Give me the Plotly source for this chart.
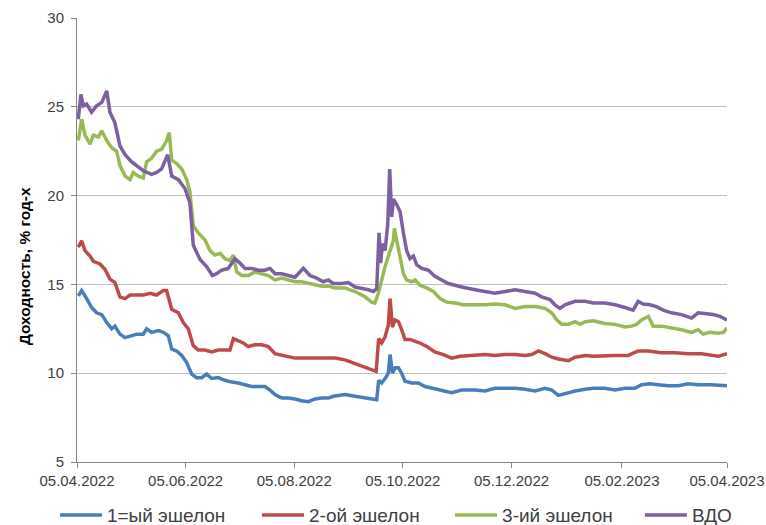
import pandas as pd
import plotly.graph_objects as go

START = "2022-04-05"

# Day offsets from 05.04.2022 and yields (% p.a.)
days_1 = [0.75, 2.6, 5.4, 8.2, 11.0, 13.9, 16.7, 19.5, 21.3, 24.1, 27.0, 29.8, 33.5, 37.2, 39.1, 41.9, 45.7, 48.5, 51.3,
          53.2, 56.0, 58.8, 61.6, 64.4, 67.2, 70.0, 72.8, 75.6, 79.3, 83.1, 86.8, 90.6, 94.3, 98.0, 101.8, 105.5, 108.4,
          111.2, 115.0, 118.7, 122.4, 126.1, 129.9, 133.6, 137.4, 141.1, 143.9, 150.5, 156.1, 161.7, 166.4, 168.3,
          169.4, 171.1, 173.0, 174.8, 175.8, 177.1, 178.6, 180.5, 182.3, 184.2, 187.9, 191.7, 195.4, 199.2, 204.8,
          210.4, 216.0, 223.5, 229.1, 234.7, 240.3, 246.0, 251.6, 257.2, 262.8, 266.6, 270.3, 274.0, 279.7, 285.3,
          290.0, 296.4, 302.1, 307.7, 313.3, 317.0, 321.7, 326.4, 332.0, 337.6, 343.2, 348.8, 356.3, 365.0]
echelon_1 = [14.35, 14.65, 14.2, 13.7, 13.4, 13.3, 12.85, 12.5, 12.65, 12.2, 12.0, 12.1, 12.2, 12.2, 12.5, 12.3, 12.4, 12.3, 12.1,
             11.35, 11.25, 11.0, 10.6, 9.95, 9.75, 9.75, 9.95, 9.7, 9.75, 9.6, 9.5, 9.45, 9.35, 9.25, 9.25, 9.25, 9.05,
             8.8, 8.6, 8.6, 8.55, 8.45, 8.4, 8.55, 8.6, 8.6, 8.7, 8.8, 8.7, 8.6, 8.5, 8.5,
             9.6, 9.45, 9.7, 10.0, 11.05, 10.0, 10.3, 10.3, 10.0, 9.55, 9.45, 9.45, 9.25, 9.15, 9.0,
             8.9, 9.05, 9.05, 9.0, 9.15, 9.15, 9.15, 9.1, 9.0, 9.15, 9.05, 8.75, 8.85, 9.0, 9.1,
             9.15, 9.15, 9.05, 9.15, 9.15, 9.35, 9.4, 9.35, 9.3, 9.3, 9.4, 9.35, 9.35, 9.3]

days_2 = [0.75, 2.6, 4.5, 7.3, 9.2, 12.9, 15.7, 18.5, 21.3, 24.1, 27.0, 29.8, 33.5, 37.2, 41.0, 44.7, 48.5, 50.3, 53.2,
          56.9, 59.7, 62.5, 65.3, 68.1, 71.9, 75.6, 79.3, 83.1, 85.9, 87.8, 90.6, 93.4, 96.2, 99.9, 103.7, 107.4,
          111.2, 115.0, 118.7, 122.4, 126.1, 133.6, 141.1, 144.9, 150.5, 156.1, 161.7, 166.4, 168.0, 169.4, 171.1,
          173.0, 174.8, 175.8, 177.1, 178.6, 180.5, 182.3, 184.2, 187.0, 189.8, 192.6, 196.4, 201.0, 205.7, 210.4,
          215.1, 223.5, 229.1, 234.7, 240.3, 246.0, 251.6, 255.3, 259.1, 262.8, 266.6, 270.3, 275.9, 279.7, 285.3,
          290.0, 296.4, 302.1, 309.5, 315.1, 320.8, 328.2, 335.7, 343.2, 350.7, 356.3, 360.1, 365.0]
echelon_2 = [17.1, 17.45, 16.9, 16.6, 16.3, 16.15, 15.85, 15.3, 15.1, 14.3, 14.2, 14.4, 14.4, 14.4, 14.5, 14.4, 14.65, 14.65, 13.6,
             13.4, 12.85, 12.5, 11.55, 11.3, 11.3, 11.2, 11.3, 11.3, 11.3, 11.95, 11.85, 11.7, 11.5, 11.6, 11.6, 11.5,
             11.1, 11.0, 10.95, 10.85, 10.85, 10.85, 10.85, 10.85, 10.75, 10.55, 10.35, 10.2, 10.1, 11.95, 11.7,
             12.05, 12.7, 14.2, 12.6, 13.0, 12.9, 12.45, 11.9, 11.9, 11.8, 11.7, 11.5, 11.2, 11.05, 10.85,
             10.95, 11.0, 11.05, 11.0, 11.05, 11.05, 11.0, 11.05, 11.25, 11.1, 10.9, 10.8, 10.7, 10.9, 11.0,
             10.95, 11.0, 11.0, 11.0, 11.25, 11.25, 11.15, 11.15, 11.1, 11.1, 11.0, 10.95, 11.1]

days_3 = [0.75, 2.6, 4.5, 7.3, 9.2, 12.0, 13.9, 16.7, 19.5, 22.3, 24.1, 27.0, 29.8, 31.6, 34.4, 37.2, 39.1, 41.9, 44.7,
          47.5, 50.3, 51.8, 53.2, 56.0, 58.8, 61.6, 63.4, 65.3, 68.1, 71.9, 74.7, 77.5, 80.3, 83.1, 85.9, 87.8, 89.7,
          92.5, 96.2, 99.9, 103.7, 107.4, 111.2, 115.0, 118.7, 122.4, 126.1, 129.9, 133.6, 137.4, 141.1, 144.9,
          150.5, 156.1, 161.7, 165.5, 167.3, 169.2, 171.1, 173.0, 175.8, 177.7, 178.2, 179.5, 181.4, 183.3, 185.1,
          187.9, 189.8, 192.6, 196.4, 200.1, 203.9, 207.6, 212.3, 216.9, 223.5, 229.1, 234.7, 240.3, 246.0, 251.6,
          257.2, 262.8, 266.6, 269.4, 272.2, 275.9, 279.7, 282.5, 285.3, 290.0, 296.4, 302.1, 307.7, 311.4, 314.2,
          317.0, 320.8, 323.6, 328.2, 333.8, 339.5, 345.1, 348.8, 351.6, 355.4, 360.1, 362.9, 365.0]
echelon_3 = [23.1, 24.3, 23.4, 22.9, 23.4, 23.3, 23.65, 23.1, 22.7, 22.5, 21.7, 21.1, 20.9, 21.3, 21.1, 21.0, 21.9, 22.1, 22.5,
             22.6, 23.1, 23.55, 22.0, 21.8, 21.5, 20.9, 20.2, 18.3, 17.9, 17.5, 16.9, 16.65, 16.75, 16.45, 16.35, 16.65, 15.7,
             15.5, 15.5, 15.7, 15.6, 15.5, 15.25, 15.35, 15.25, 15.15, 15.15, 15.05, 14.95, 14.9, 14.9, 14.8,
             14.8, 14.6, 14.3, 14.0, 13.95, 14.5, 15.25, 16.0, 16.9, 17.5, 18.15, 17.5, 16.55, 15.6, 15.25,
             15.15, 15.25, 14.95, 14.8, 14.6, 14.2, 14.0, 13.95, 13.85, 13.85, 13.85, 13.9, 13.85, 13.65, 13.75,
             13.75, 13.65, 13.4, 13.0, 12.75, 12.75, 12.9, 12.75, 12.9, 12.95, 12.8, 12.75, 12.6, 12.65, 12.75,
             13.0, 13.2, 12.65, 12.65, 12.55, 12.45, 12.3, 12.45, 12.2, 12.3, 12.25, 12.3, 12.55]

days_4 = [0.7, 2.2, 3.5, 5.4, 8.2, 11.0, 13.9, 16.7, 18.5, 21.3, 24.1, 27.0, 30.7, 34.4, 37.2, 41.9, 44.7, 47.5, 50.9,
          53.2, 56.9, 60.6, 63.4, 65.3, 69.1, 72.8, 76.0, 78.4, 81.2, 84.9, 88.7, 91.5, 94.3, 98.0, 101.8, 105.5,
          108.4, 111.2, 115.0, 118.7, 122.4, 127.1, 130.8, 134.6, 138.3, 141.1, 143.9, 148.6, 152.4, 156.1, 159.8,
          163.6, 166.4, 168.3, 169.6, 170.5, 171.5, 173.0, 174.5, 175.6, 176.7, 177.7, 179.5, 181.4, 183.3, 185.1,
          187.0, 188.9, 190.8, 193.6, 197.3, 201.0, 204.8, 208.5, 212.3, 216.0, 223.5, 229.1, 234.7, 240.3, 246.0,
          251.6, 257.2, 260.9, 265.6, 268.4, 271.2, 274.0, 279.7, 285.3, 290.0, 296.4, 302.1, 307.7, 312.3, 315.1,
          317.9, 321.7, 325.4, 329.2, 333.8, 339.5, 345.1, 348.8, 352.6, 357.2, 361.0, 365.0]
vdo = [24.3, 25.7, 25.05, 25.15, 24.7, 25.05, 25.25, 25.9, 24.7, 24.1, 22.8, 22.3, 21.9, 21.6, 21.4, 21.2, 21.3, 21.5, 22.3,
       21.1, 20.9, 20.4, 19.6, 17.2, 16.4, 16.0, 15.5, 15.6, 15.8, 15.9, 16.45, 16.2, 15.9, 15.9, 15.8, 15.8,
       15.9, 15.6, 15.6, 15.5, 15.4, 15.9, 15.5, 15.35, 15.15, 15.25, 15.05, 15.05, 15.1, 14.85, 14.8,
       14.7, 14.6, 14.75, 17.9, 16.2, 17.3, 16.9, 18.4, 21.5, 18.8, 19.8, 19.5, 19.1, 17.9, 16.9,
       16.45, 16.6, 16.1, 15.9, 15.8, 15.45, 15.25, 15.05, 14.95, 14.85, 14.7, 14.6, 14.5, 14.6, 14.7,
       14.6, 14.5, 14.3, 14.15, 13.85, 13.65, 13.85, 14.05, 14.05, 13.95, 13.95, 13.85, 13.7, 13.55, 14.05,
       13.9, 13.85, 13.75, 13.55, 13.4, 13.3, 13.1, 13.4, 13.35, 13.3, 13.2, 13.0]

series_names = ["1=ый эшелон", "2-ой эшелон", "3-ий эшелон", "ВДО"]
series_colors = ["#4A7EBB", "#BE4B48", "#98B954", "#7D60A0"]

tick_dates = ["2022-04-05", "2022-06-05", "2022-08-05", "2022-10-05", "2022-12-05", "2023-02-05", "2023-04-05"]
tick_labels = ["05.04.2022", "05.06.2022", "05.08.2022", "05.10.2022", "05.12.2022", "05.02.2023", "05.04.2023"]
y_title = "Доходность, % год-х"


def to_dates(d):
    return pd.Timestamp(START) + pd.to_timedelta(d, unit="D")


legend_ids = ["legend", "legend2", "legend3", "legend4"]
legend_x = [-0.034, 0.277, 0.574, 0.866]

fig = go.Figure()
for d, v, name, col, lg in zip([days_1, days_2, days_3, days_4],
                               [echelon_1, echelon_2, echelon_3, vdo],
                               series_names, series_colors, legend_ids):
    fig.add_trace(go.Scatter(x=to_dates(d), y=v, mode="lines", name=name, legend=lg,
                             line=dict(color=col, width=3.5)))

font_fam = "Liberation Sans, Arial, sans-serif"
legend_common = dict(orientation="h", xanchor="left", y=-0.077, yanchor="top",
                     font=dict(size=19, color="#404040"), itemwidth=42,
                     bgcolor="rgba(0,0,0,0)", borderwidth=0)

fig.update_layout(
    width=766, height=525,
    margin=dict(l=77, r=39, t=18, b=63, autoexpand=False),
    paper_bgcolor="white", plot_bgcolor="white",
    font=dict(family=font_fam, size=12, color="#404040"),
    showlegend=True,
    legend=dict(x=legend_x[0], **legend_common),
    legend2=dict(x=legend_x[1], **legend_common),
    legend3=dict(x=legend_x[2], **legend_common),
    legend4=dict(x=legend_x[3], **legend_common),
    annotations=[dict(text="<b>" + y_title + "</b>", xref="paper", yref="paper",
                      x=-0.0815, y=0.441, xanchor="center", yanchor="middle",
                      textangle=-90, showarrow=False, font=dict(size=15.5, color="black"))],
)
fig.update_xaxes(
    type="date", range=[to_dates(0), to_dates(365)], automargin=False,
    tickvals=pd.to_datetime(tick_dates), ticktext=tick_labels,
    showgrid=False, showline=True, linecolor="#868686", linewidth=1,
    ticks="outside", ticklen=5, tickcolor="#868686",
    tickfont=dict(size=15, color="#404040"), zeroline=False,
)
fig.update_yaxes(
    range=[5, 30], dtick=5, tick0=5, automargin=False,
    showgrid=True, gridcolor="#C0C0C0", gridwidth=1,
    showline=True, linecolor="#868686", linewidth=1,
    ticks="outside", ticklen=5, tickcolor="#868686", ticklabelstandoff=4,
    tickfont=dict(size=15, color="#404040"), zeroline=False,
)

# remove the browser's default 8px page margin so the 766x525 figure fills the window exactly
fig.write_html("out.html", config={"displayModeBar": False},
               post_script="document.body.style.margin='0';document.body.style.overflow='hidden';")
